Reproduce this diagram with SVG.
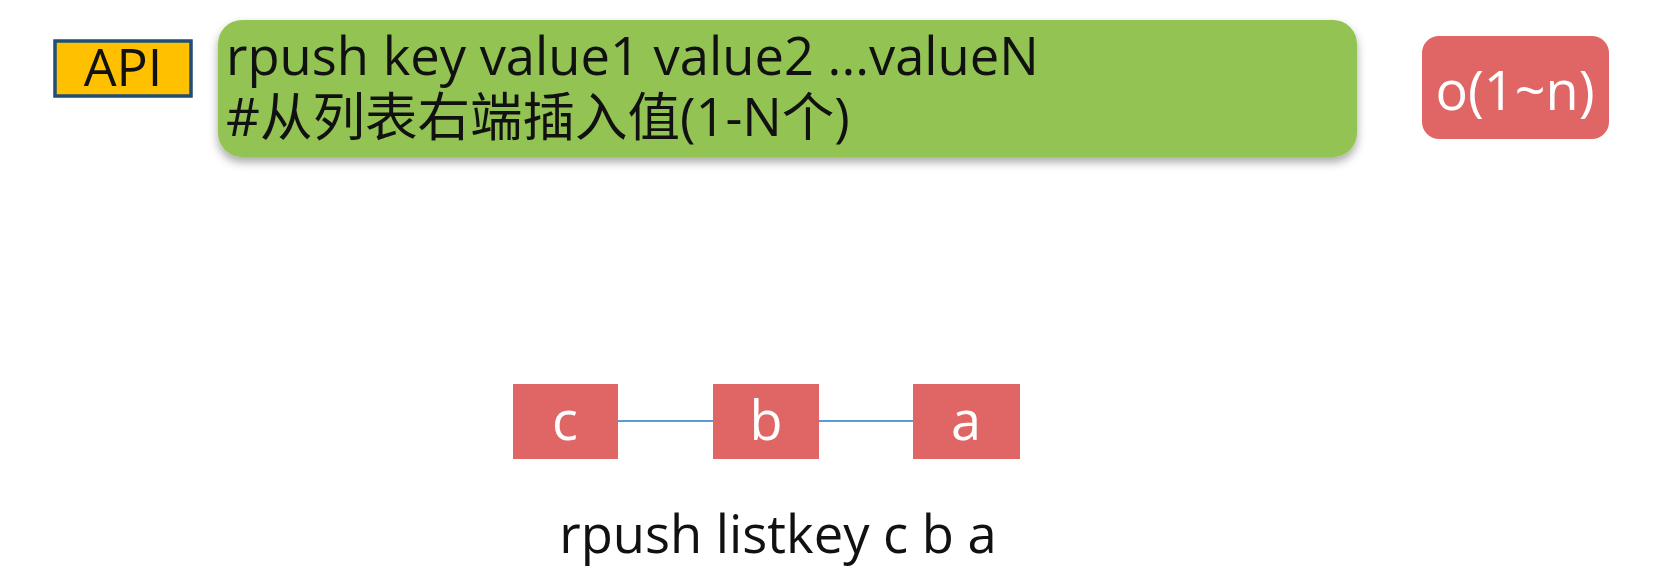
<svg xmlns="http://www.w3.org/2000/svg" width="1659" height="584" viewBox="0 0 1659 584">
<defs>
<filter id="sh" x="-5%" y="-20%" width="110%" height="150%">
<feDropShadow dx="0" dy="5" stdDeviation="5" flood-color="#000" flood-opacity="0.35"/>
</filter>
<style>
.t{font-family:"Open Sans","Noto Sans","Noto Sans CJK SC",sans-serif;}
.red{fill:#E06666;}
.w{fill:#fff;font-size:54px;text-anchor:middle;}
.conn{stroke:#5B9BD5;stroke-width:2;fill:none;}
</style>
</defs>
<rect width="1659" height="584" fill="#fff"/>
<g id="api">
<rect x="55" y="41" width="136" height="55" fill="#FFC000" stroke="#1F4E79" stroke-width="3.5"/>
<text class="t" x="123" y="86" font-size="52" text-anchor="middle" fill="#111">API</text>
</g>
<g id="desc">
<rect x="218" y="20" width="1139" height="137" rx="24" fill="#92C353" filter="url(#sh)"/>
<text class="t" font-size="52.5" fill="#111"><tspan x="226" y="75">rpush key value1 value2 ...valueN</tspan><tspan x="226" y="136">#从列表右端插入值(1-N个)</tspan></text>
</g>
<g id="complexity">
<rect x="1422" y="36" width="187" height="103" rx="17" class="red"/>
<text class="t w" x="1515" y="110" font-size="56">o(1~n)</text>
</g>
<g id="connectors">
<line class="conn" x1="618" y1="421" x2="713" y2="421"/>
<line class="conn" x1="819" y1="421" x2="913" y2="421"/>
</g>
<g id="node-c">
<rect x="513" y="384" width="105" height="75" class="red"/>
<text class="t w" x="565" y="440">c</text>
</g>
<g id="node-b">
<rect x="713" y="384" width="106" height="75" class="red"/>
<text class="t w" x="766" y="440">b</text>
</g>
<g id="node-a">
<rect x="913" y="384" width="107" height="75" class="red"/>
<text class="t w" x="966" y="440">a</text>
</g>
<g id="caption">
<text class="t" x="778" y="553" font-size="52.5" text-anchor="middle" fill="#111">rpush listkey c b a</text>
</g>
</svg>
